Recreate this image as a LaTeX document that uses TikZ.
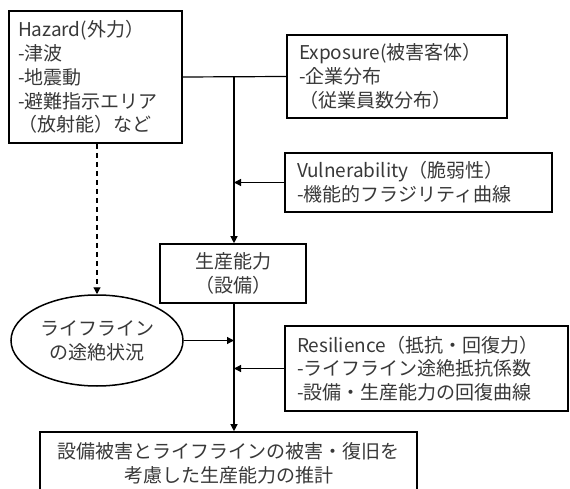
\documentclass[tikz,border=0pt]{standalone}
\usepackage{fontspec}
\setmainfont{Noto Sans CJK JP}
\usetikzlibrary{arrows.meta,shapes.geometric}
\begin{document}
\begin{tikzpicture}[x=1pt,y=-1pt,
  font=\fontsize{19}{23.8}\selectfont,
  every node/.style={text=black!78},
  box/.style={draw=black, line width=1.6pt, inner sep=0pt, align=left},
  cbox/.style={draw=black, line width=1.6pt, inner sep=0pt, align=center},
  conn/.style={line width=1.2pt},
  arr/.style={conn, -{Triangle[length=7pt,width=7pt]}},
  dashline/.style={dash pattern=on 5pt off 4pt}]
\useasboundingbox (0,0) rectangle (570,489);
\node[box, minimum width=173pt, minimum height=132pt, text width=155pt] (hazard) at (95.5,77)
  {Hazard(外力）\\-津波\\-地震動\\-避難指示エリア\\（放射能）など};
\node[box, minimum width=220pt, minimum height=83pt, text width=196pt] (exposure) at (397,76.5)
  {Exposure(被害客体）\\-企業分布\\（従業員数分布）};
\node[box, minimum width=267pt, minimum height=59pt, text width=243pt] (vul) at (418.5,182.5)
  {Vulnerability（脆弱性）\\-機能的フラジリティ曲線};
\node[cbox, minimum width=146pt, minimum height=59pt] (prod) at (233,273.5)
  {生産能力\\（設備）};
\node[draw=black, ellipse, line width=1.5pt, inner sep=0pt, minimum width=172pt, minimum height=91pt, align=center] (ell) at (97,340.5)
  {ライフライン\\の途絶状況};
\node[box, minimum width=283pt, minimum height=85pt, text width=259pt] (res) at (426.5,368.5)
  {Resilience（抵抗・回復力）\\-ライフライン途絶抵抗係数\\-設備・生産能力の回復曲線};
\node[cbox, minimum width=377pt, minimum height=62pt] (final) at (228.5,463)
  {設備被害とライフラインの被害・復旧を\\考慮した生産能力の推計};
\coordinate (j) at (234,77);
\draw[conn] (hazard.east) -- (exposure.west);
\draw[arr] (j) -- (j |- prod.north);
\draw[arr] (vul.west) -- (j |- vul.west);
\draw[arr, dashline] (ell.north |- hazard.south) -- (ell.north);
\draw[arr] (ell.east) -- (j |- ell.east);
\draw[arr] (res.west) -- (j |- res.west);
\draw[arr] (j |- prod.south) -- (j |- final.north);
\end{tikzpicture}
\end{document}
